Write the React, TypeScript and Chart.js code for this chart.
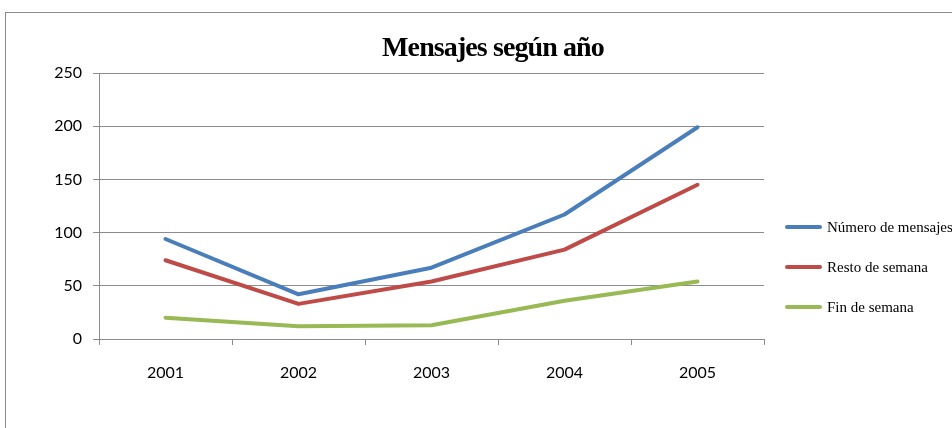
import React, { useEffect, useRef } from "react";
import { Chart, registerables } from "chart.js";

Chart.register(...registerables);

const categories = ["2001", "2002", "2003", "2004", "2005"];
const numeroMensajes = [94, 42, 67, 117, 199];
const restoSemana = [74, 33, 54, 84, 145];
const finSemana = [20, 12, 13, 36, 54];
const seriesNames = ["Número de mensajes", "Resto de semana", "Fin de semana"];
const seriesColors = ["#4A7EBB", "#BE4B48", "#98B954"];
const titleText = "Mensajes según año";

export default function App() {
  const ref = useRef<HTMLCanvasElement>(null);

  useEffect(() => {
    if (!ref.current) return;
    const values = [numeroMensajes, restoSemana, finSemana];
    const chart = new Chart(ref.current, {
      type: "line",
      data: {
        labels: categories,
        datasets: values.map((v, i) => ({
          label: seriesNames[i],
          data: v,
          borderColor: seriesColors[i],
          backgroundColor: seriesColors[i],
          borderWidth: 4,
          pointRadius: 0,
          tension: 0,
          borderCapStyle: "round" as const,
          borderJoinStyle: "round" as const,
        })),
      },
      options: {
        animation: false,
        responsive: false,
        layout: { padding: { left: 0, top: 73, right: 188, bottom: 29 } },
        plugins: {
          legend: { display: false },
          title: { display: false },
          tooltip: { enabled: false },
        },
        scales: {
          x: {
            offset: true,
            grid: {
              display: true,
              drawOnChartArea: false,
              offset: true,
              tickLength: 6,
              color: "#8C8C8C",
            },
            border: { color: "#8C8C8C", width: 1 },
            ticks: {
              color: "#000",
              padding: 18,
              font: { family: "Lato", size: 16 },
            },
            afterFit: (s: any) => {
              s.height = 60;
            },
          },
          y: {
            min: 0,
            max: 250,
            ticks: {
              stepSize: 50,
              color: "#000",
              padding: 11,
              font: { family: "Lato", size: 16 },
            },
            grid: { color: "#8C8C8C", tickLength: 6, lineWidth: 1 },
            border: { color: "#8C8C8C", width: 1 },
            afterFit: (s: any) => {
              s.width = 99;
            },
          },
        },
      },
    });
    return () => chart.destroy();
  }, []);

  return (
    <div style={{ position: "absolute", left: 0, top: 0, width: 952, height: 428, overflow: "hidden", background: "#fff" }}>
      <div style={{ position: "absolute", left: 5, top: 12, width: 1000, height: 500, border: "1px solid #8C8C8C" }} />
      <canvas ref={ref} width={952} height={428} style={{ position: "absolute", left: 0, top: 0 }} />
      <div
        style={{
          position: "absolute",
          left: 293,
          width: 400,
          top: 32,
          textAlign: "center",
          fontFamily: "'Liberation Serif', 'Times New Roman', serif",
          fontWeight: "bold",
          fontSize: 28,
          letterSpacing: -0.9,
          lineHeight: "30px",
          color: "#000",
        }}
      >
        {titleText}
      </div>
      {seriesNames.map((n, i) => (
        <div
          key={n}
          style={{
            position: "absolute",
            left: 785,
            top: 217 + i * 40,
            height: 20,
            display: "flex",
            alignItems: "center",
            whiteSpace: "nowrap",
            fontFamily: "'Liberation Serif', 'Times New Roman', serif",
            fontSize: 15,
            color: "#000",
          }}
        >
          <span style={{ display: "inline-block", width: 37, height: 4, borderRadius: 2, background: seriesColors[i], marginRight: 5 }} />
          {n}
        </div>
      ))}
    </div>
  );
}
